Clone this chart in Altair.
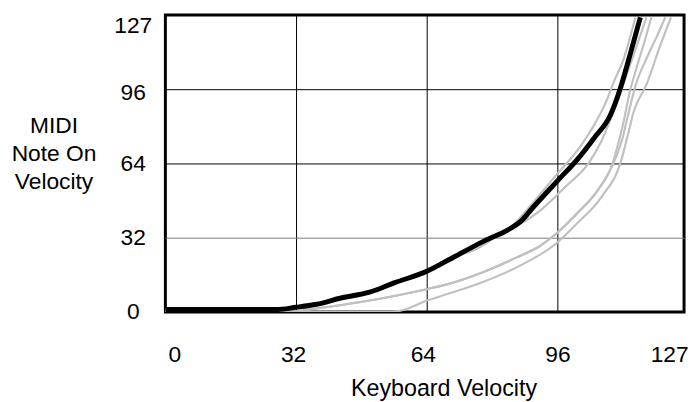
import altair as alt
import pandas as pd

# ---- data ----
black_x = [0, 27, 32, 37, 43, 50, 56, 64, 71, 78, 84, 87, 90, 96, 101, 105, 109, 111.5, 113.8, 116.3]
black_y = [1, 1, 2, 3.3, 6, 8.5, 12.5, 17.5, 24, 30.5, 35.5, 39, 45, 56.5, 66, 75, 85, 97, 111, 127]

g1_x = [0, 27, 32, 37, 43, 50, 56, 64, 71, 78, 84, 86, 90, 96, 101.5, 104.8, 108, 110, 112, 115.1]
g1_y = [1, 1, 2, 3.3, 6, 8.5, 12.5, 17.5, 24, 30.5, 35.5, 39, 47, 59.6, 71, 80, 91, 100, 108, 127]

g2_x = [0, 27, 32, 37, 43, 50, 56, 64, 71, 76, 80.7, 86, 92, 98, 103.6, 106.6, 109, 111, 112.5, 114.5, 117.8]
g2_y = [1, 1, 2, 3.3, 6, 8.5, 12.5, 17.5, 24, 27, 32, 37, 44, 54, 64, 73, 83, 92, 100, 110, 127]

g3_x = [0, 30, 35, 45, 56.7, 64.2, 69.2, 77.6, 85.9, 91.7, 95.9, 100.9, 105.9, 109.5, 110.8, 112.2, 113.6, 115.5, 117.4, 119]
g3_y = [0, 0, 1, 3.5, 7.1, 9.9, 12, 17, 23.4, 28.4, 34, 42.6, 52.5, 64, 72, 82, 94, 106, 117, 127]

g4_x = [0, 30, 35, 45, 56.7, 64.2, 69.2, 77.6, 85.9, 91.7, 95.9, 100.9, 105.9, 109.7, 111.8, 113.3, 115.2, 118, 120.4, 122.4]
g4_y = [0, 0, 1, 3.5, 7.1, 9.9, 12, 17, 23.4, 28.4, 34, 42.6, 52.5, 64, 74, 85, 98, 110, 119, 127]

g5_x = [0, 55, 57.5, 64.2, 69.2, 77.6, 85.9, 95.9, 100.9, 106.8, 111.6, 113.2, 114.7, 117.8, 121.2, 123.8]
g5_y = [0, 0, 0.5, 5, 7.8, 12.8, 19.1, 29.8, 38.3, 49.6, 65.2, 76, 86.5, 98, 115, 127]

x_ticks = [0, 32, 64, 96, 127]
y_ticks = [0, 32, 64, 96, 127]

gray_curves = {"g1": (g1_x, g1_y), "g2": (g2_x, g2_y), "g3": (g3_x, g3_y),
               "g4": (g4_x, g4_y), "g5": (g5_x, g5_y)}

rows = []
for name, (xs_, ys_) in gray_curves.items():
    for i, (a, b) in enumerate(zip(xs_, ys_)):
        rows.append({"curve": name, "order": i, "kv": a, "mv": b})
gray_df = pd.DataFrame(rows)
black_df = pd.DataFrame({"kv": black_x, "mv": black_y, "order": range(len(black_x))})

FONT = "Liberation Sans"

x_axis = alt.Axis(
    values=x_ticks, title="Keyboard Velocity", grid=True, ticks=False, tickSize=0,
    domain=False, labelFont=FONT, labelFontSize=23, labelColor="black",
    labelAlign="center", labelBaseline="middle", labelPadding=43,
    labelOffset={"condition": [
        {"test": "datum.value == 0", "value": 9},
        {"test": "datum.value == 32", "value": -3},
        {"test": "datum.value == 64", "value": -4},
        {"test": "datum.value == 127", "value": -15}], "value": 0},
    gridColor="black", gridWidth=1,
    gridOpacity={"condition": {"test": "datum.value == 0 || datum.value == 127", "value": 0}, "value": 1},
    titleFont=FONT, titleFontSize=23.5, titleFontWeight="normal", titleColor="black",
    titleX=281, titleY=84, titleAlign="center", titleBaseline="alphabetic",
    labelOverlap=False,
)

y_axis = alt.Axis(
    values=y_ticks, title=["MIDI", "Note On", "Velocity"], grid=True, ticks=False, tickSize=0,
    domain=False, labelFont=FONT, labelFontSize=23, labelColor="black",
    labelAlign="center", labelBaseline="middle", labelPadding=33,
    labelOffset={"condition": [
        {"test": "datum.value == 127", "value": 8},
        {"test": "datum.value == 96", "value": 3}], "value": 0},
    gridColor={"condition": {"test": "datum.value == 32", "value": "#7a7a7a"}, "value": "black"},
    gridWidth=1,
    gridOpacity={"condition": {"test": "datum.value == 0 || datum.value == 127", "value": 0}, "value": 1},
    titleFont=FONT, titleFontSize=23, titleFontWeight="normal", titleColor="black",
    titleAngle=0, titleX=-113, titleY=119, titleAlign="center", titleBaseline="alphabetic",
    titleLineHeight=28, labelOverlap=False,
)

xs = alt.Scale(domain=[0, 127], nice=False, zero=False)
ys = alt.Scale(domain=[0, 128], nice=False, zero=False)

gray = alt.Chart(gray_df).mark_line(color="#c0c0c0", strokeWidth=2.2, clip=True,
                                    interpolate="monotone").encode(
    x=alt.X("kv:Q", scale=xs, axis=x_axis),
    y=alt.Y("mv:Q", scale=ys, axis=y_axis),
    detail="curve:N",
    order="order:Q",
)

black = alt.Chart(black_df).mark_line(color="black", strokeWidth=5, clip=True,
                                      interpolate="monotone").encode(
    x=alt.X("kv:Q", scale=xs),
    y=alt.Y("mv:Q", scale=ys),
    order="order:Q",
)

chart = alt.layer(gray, black).properties(
    width=524, height=300,
    autosize=alt.AutoSizeParams(type="none"),
    padding={"left": 159, "top": 5, "right": 5, "bottom": 92},
).configure(
    background="white",
    view=alt.ViewConfig(stroke="black", strokeWidth=3),
)

chart.save("out.html", embed_options={"renderer": "svg", "actions": False})
